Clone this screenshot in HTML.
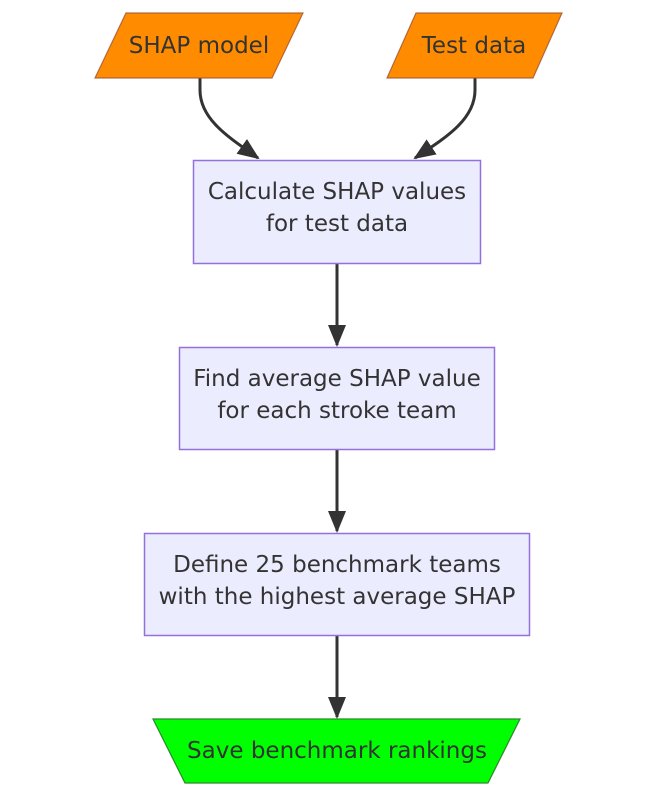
<!DOCTYPE html>
<html><head><style>
html,body{margin:0;padding:0;background:#fff;}
svg{display:block;}
text{font-family:"DejaVu Sans","Liberation Sans",sans-serif;font-size:23px;fill:#333;text-anchor:middle;}
</style></head><body>
<svg width="657" height="797" viewBox="0 0 657 797">
<defs>
<marker id="b" markerWidth="22" markerHeight="22" refX="20" refY="11" orient="auto" markerUnits="userSpaceOnUse" viewBox="0 0 22 22">
<path d="M0,2 L22,11 L0,20 z" fill="#333"/>
</marker>
</defs>
<g fill="none" stroke="#333" stroke-width="3">
<path d="M200,78 L200,90 C200,120 230,138 258,158" marker-end="url(#b)"/>
<path d="M475,78 L475,90 C475,120 445,138 415,158" marker-end="url(#b)"/>
<path d="M337,264 L337,345" marker-end="url(#b)"/>
<path d="M337,450 L337,531" marker-end="url(#b)"/>
<path d="M337,636 L337,717" marker-end="url(#b)"/>
</g>
<polygon points="126,13 303,13 272,78 95,78" fill="#ff8c00" stroke="#a0522d" stroke-width="1.2" stroke-opacity="0.8"/>
<text x="199" y="53">SHAP model</text>
<polygon points="416,13 562,13 533,78 387,78" fill="#ff8c00" stroke="#a0522d" stroke-width="1.2" stroke-opacity="0.8"/>
<text x="474" y="53">Test data</text>
<rect x="193.5" y="160.5" width="287" height="103" fill="#ececff" stroke="#9370db" stroke-width="1.5"/>
<text x="337" y="199">Calculate SHAP values</text>
<text x="337" y="231">for test data</text>
<rect x="179.5" y="347.5" width="315" height="102" fill="#ececff" stroke="#9370db" stroke-width="1.5"/>
<text x="337" y="386">Find average SHAP value</text>
<text x="337" y="418">for each stroke team</text>
<rect x="144.5" y="533.5" width="385" height="102" fill="#ececff" stroke="#9370db" stroke-width="1.5"/>
<text x="337" y="572">Define 25 benchmark teams</text>
<text x="337" y="604">with the highest average SHAP</text>
<polygon points="153,719 520,719 488,783 185,783" fill="#00ff00" stroke="#2a8a2a" stroke-width="1.2"/>
<text x="337" y="758">Save benchmark rankings</text>
</svg>
</body></html>
